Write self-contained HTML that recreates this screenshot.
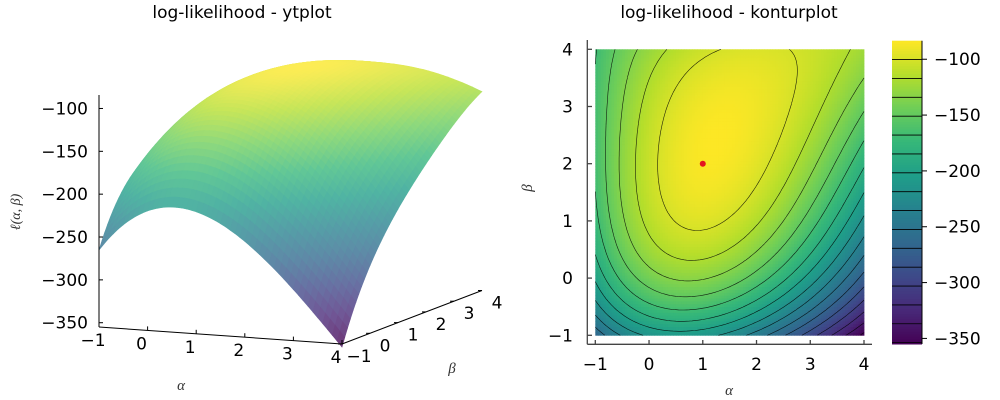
<!DOCTYPE html>
<html><head><meta charset="utf-8">
<style>
body{margin:0;background:#fff;}
svg{display:block;font-family:"DejaVu Sans","Liberation Sans",sans-serif;}
</style></head>
<body>
<svg id="c" width="1000" height="400" viewBox="0 0 1000 400" xmlns="http://www.w3.org/2000/svg">
<rect width="1000" height="400" fill="#fff"/>
<text x="242" y="18" text-anchor="middle" font-size="17">log-likelihood - ytplot</text>
<text x="729" y="18" text-anchor="middle" font-size="17">log-likelihood - konturplot</text>
<g id="left"></g>
<g id="right"></g>
<g id="cbar"></g>
</svg>
<script>
// grid of log-likelihood values, rows beta=-1..4, cols alpha=-1..4
const alphaTicks=[-1,0,1,2,3,4];
const betaTicks=[-1,0,1,2,3,4];
const zTicks=[-100,-150,-200,-250,-300,-350];
const cbarTicks=[-100,-150,-200,-250,-300,-350];
const row_bm1=[-260,-220,-215,-245,-295,-355];
const row_b0=[-205,-140,-127,-155,-210,-285];
const row_b1=[-176,-112,-97,-113,-150,-222];
const row_b2=[-163,-100,-88,-107,-137,-176];
const row_b3=[-166,-112,-87,-87,-108,-148];
const row_b4=[-168,-132,-103,-92,-106,-125];
const mleAlpha=[1];
const mleBeta=[2];
const zMin=-355, zMax=-83.4, levelStep=16.9;

const grid=[row_bm1,row_b0,row_b1,row_b2,row_b3,row_b4];
const NS="http://www.w3.org/2000/svg";
function mk(tag,attrs,parent){const e=document.createElementNS(NS,tag);for(const k in attrs)e.setAttribute(k,attrs[k]);parent.appendChild(e);return e;}

// least-squares smooth polynomial surface through the grid
const DEG=4;const terms=[];for(let p=0;p<=DEG;p++)for(let q=0;q+p<=DEG;q++)terms.push([p,q]);
function basis(a,b){const u=(a-1.5)/2.5,v=(b-1.5)/2.5;return terms.map(t=>Math.pow(u,t[0])*Math.pow(v,t[1]));}
const K=terms.length;const A=[];for(let i=0;i<K;i++){A.push(new Array(K+1).fill(0));}
for(let i=0;i<grid.length;i++)for(let j=0;j<grid[i].length;j++){
  const bs=basis(alphaTicks[j],betaTicks[i]);const z=grid[i][j];
  for(let r=0;r<K;r++){for(let c=0;c<K;c++)A[r][c]+=bs[r]*bs[c];A[r][K]+=bs[r]*z;}}
for(let r=0;r<K;r++)A[r][r]+=1e-6;
for(let c=0;c<K;c++){let piv=c;for(let r=c+1;r<K;r++)if(Math.abs(A[r][c])>Math.abs(A[piv][c]))piv=r;
  [A[c],A[piv]]=[A[piv],A[c]];
  for(let r=0;r<K;r++){if(r===c)continue;const m=A[r][c]/A[c][c];for(let k=c;k<=K;k++)A[r][k]-=m*A[c][k];}}
const coef=A.map((row,i)=>row[K]/row[i]);
function f(a,b){const bs=basis(a,b);let s=0;for(let i=0;i<K;i++)s+=coef[i]*bs[i];return s;}

const vir=[[68,1,84],[72,40,120],[62,73,137],[49,104,142],[38,130,142],[31,158,137],[53,183,121],[110,206,88],[181,222,43],[253,231,37]];
function cmap(v,light){let t=(v-zMin)/(zMax-zMin);t=Math.max(0,Math.min(1,t))*(vir.length-1);
  const k=Math.min(Math.floor(t),vir.length-2),u=t-k;
  let c=vir[k].map((x,q)=>x+(vir[k+1][q]-x)*u);
  if(light)c=c.map(x=>x+(255-x)*light);
  return `rgb(${c.map(Math.round).join(',')})`;}

// ---------- right: contour heatmap ----------
const R=document.getElementById('right');
const px0=595.3,px1=864,py0=335.3,py1=49.3;
const X=a=>px0+(a+1)/5*(px1-px0), Y=b=>py0+(b+1)/5*(py1-py0);
const N=100, da=5/N;
const hm=mk('g',{},R);

const S=[];
for(let i=0;i<=N;i++){S.push([]);for(let j=0;j<=N;j++)S[i].push(f(-1+j*da,-1+i*da));}
for(let i=0;i<N;i++)for(let j=0;j<N;j++){
  const v=(S[i][j]+S[i+1][j]+S[i][j+1]+S[i+1][j+1])/4;
  mk('rect',{x:X(-1+j*da).toFixed(2),y:Y(-1+(i+1)*da).toFixed(2),width:((px1-px0)/N+0.4).toFixed(2),height:((py0-py1)/N+0.4).toFixed(2),fill:cmap(v)},hm);
}
const levels=[];for(let L=zMax-levelStep;L>zMin;L-=levelStep)levels.push(L);
const cg=mk('g',{fill:'none',stroke:'#000','stroke-width':0.6,'stroke-opacity':0.85},R);

levels.forEach(L=>{let d='';
  for(let i=0;i<N;i++)for(let j=0;j<N;j++){
    const c=[[j,i,S[i][j]],[j+1,i,S[i][j+1]],[j+1,i+1,S[i+1][j+1]],[j,i+1,S[i+1][j]]];
    const pts=[];
    for(let k=0;k<4;k++){const p=c[k],q=c[(k+1)%4];
      if((p[2]-L)*(q[2]-L)<0){const t=(L-p[2])/(q[2]-p[2]);pts.push([p[0]+(q[0]-p[0])*t,p[1]+(q[1]-p[1])*t]);}}
    for(let k=0;k+1<pts.length;k+=2){
      d+=`M${X(-1+pts[k][0]*da).toFixed(1)} ${Y(-1+pts[k][1]*da).toFixed(1)}L${X(-1+pts[k+1][0]*da).toFixed(1)} ${Y(-1+pts[k+1][1]*da).toFixed(1)}`;}
  }
  const p=mk('path',{d:d},cg);
  
});
const dot=mk('circle',{cx:X(mleAlpha[0]),cy:Y(mleBeta[0]),r:3,fill:'#e4161f'},R);

const ax=mk('g',{stroke:'#444','stroke-width':1.3},R);

mk('line',{x1:587.3,y1:40,x2:587.3,y2:344.3},ax);
mk('line',{x1:587.3,y1:344.3,x2:872,y2:344.3},ax);
alphaTicks.forEach(a=>{mk('line',{x1:X(a),y1:344.3,x2:X(a),y2:340},ax);
  const t=mk('text',{x:X(a),y:370,'text-anchor':'middle','font-size':17,stroke:'none',fill:'#000'},R);t.textContent=(a<0?'\u2212':'')+Math.abs(a);
  });
betaTicks.forEach(b=>{mk('line',{x1:587.3,y1:Y(b),x2:592,y2:Y(b)},ax);
  const t=mk('text',{x:573,y:Y(b)+6,'text-anchor':'end','font-size':17,fill:'#000'},R);t.textContent=(b<0?'\u2212':'')+Math.abs(b);
  });
let tt=mk('text',{x:729,y:395,'text-anchor':'middle','font-size':15,'font-style':'italic','font-family':'Liberation Serif,serif',fill:'#333'},R);tt.textContent='α';

tt=mk('text',{x:0,y:0,transform:'translate(532,188) rotate(-90)','text-anchor':'middle','font-size':15,'font-style':'italic','font-family':'Liberation Serif,serif',fill:'#333'},R);tt.textContent='β';


// ---------- colorbar ----------
const CB=document.getElementById('cbar');
const cx0=892,cx1=922,cy0=344,cy1=40.7;
const CY=v=>cy0+(v-zMin)/(zMax-zMin)*(cy1-cy0);
for(let k=0;k<120;k++){const v0=zMin+(zMax-zMin)*k/120,v1=zMin+(zMax-zMin)*(k+1)/120;
  mk('rect',{x:cx0,y:CY(v1).toFixed(2),width:cx1-cx0,height:(CY(v0)-CY(v1)+0.5).toFixed(2),fill:cmap((v0+v1)/2)},CB);}
levels.forEach(L=>mk('line',{x1:cx0,x2:cx1,y1:CY(L),y2:CY(L),stroke:'#000','stroke-width':0.8},CB));
mk('line',{x1:cx1,y1:cy1,x2:cx1,y2:cy0,stroke:'#000','stroke-width':1},CB);
cbarTicks.forEach(v=>{mk('line',{x1:cx1,x2:cx1+5,y1:CY(v),y2:CY(v),stroke:'#000'},CB);
  const t=mk('text',{x:934,y:CY(v)+6,'font-size':17},CB);t.textContent='\u2212'+Math.abs(v);
  });

// ---------- left: 3D surface ----------
const Lg=document.getElementById('left');
function P(a,b,z){return [99+(a+1)*48.6+(b+1)*28,327+(a+1)*3.4-(b+1)*10.7-(z-zMin)*0.857];}
const M=50, d3=5/M;
const sg=mk('g',{},Lg);

const Z=[];for(let i=0;i<=M;i++){Z.push([]);for(let j=0;j<=M;j++)Z[i].push(f(-1+j*d3,-1+i*d3));}
for(let i=M-1;i>=0;i--)for(let j=0;j<M;j++){
  const a0=-1+j*d3,a1=a0+d3,b0=-1+i*d3,b1=b0+d3;
  const pts=[P(a0,b0,Z[i][j]),P(a1,b0,Z[i][j+1]),P(a1,b1,Z[i+1][j+1]),P(a0,b1,Z[i+1][j])];
  const col=cmap((Z[i][j]+Z[i][j+1]+Z[i+1][j]+Z[i+1][j+1])/4,0.22);
  mk('polygon',{points:pts.map(p=>p[0].toFixed(1)+','+p[1].toFixed(1)).join(' '),fill:col,stroke:col,'stroke-width':0.6},sg);
}
const la=mk('g',{stroke:'#000','stroke-width':1},Lg);

mk('line',{x1:99,y1:95,x2:99,y2:327},la);
let p0=P(-1,-1,zMin),p1=P(4,-1,zMin),p2=P(4,4,zMin);
mk('line',{x1:p0[0],y1:p0[1],x2:p1[0],y2:p1[1]},la);
mk('line',{x1:p1[0],y1:p1[1],x2:p2[0],y2:p2[1]},la);
zTicks.forEach(z=>{const y=P(-1,-1,z)[1];mk('line',{x1:99,x2:103,y1:y,y2:y},la);
  const t=mk('text',{x:88,y:y+6,'text-anchor':'end','font-size':17,stroke:'none'},Lg);t.textContent='\u2212'+Math.abs(z);
  });
alphaTicks.forEach(a=>{const p=P(a,-1,zMin);mk('line',{x1:p[0],y1:p[1],x2:p[0],y2:p[1]-4},la);
  const t=mk('text',{x:p[0]-6,y:p[1]+19,'text-anchor':'middle','font-size':17},Lg);t.textContent=(a<0?'\u2212':'')+Math.abs(a);
  });
betaTicks.forEach(b=>{const p=P(4,b,zMin);mk('line',{x1:p[0],y1:p[1],x2:p[0]-4,y2:p[1]},la);
  const t=mk('text',{x:p[0]+(b<0?17:15),y:p[1]+18,'text-anchor':'middle','font-size':17},Lg);t.textContent=(b<0?'\u2212':'')+Math.abs(b);
  });
tt=mk('text',{x:181,y:390,'text-anchor':'middle','font-size':15,'font-style':'italic','font-family':'Liberation Serif,serif',fill:'#333'},Lg);tt.textContent='α';

tt=mk('text',{x:452,y:373,'text-anchor':'middle','font-size':15,'font-style':'italic','font-family':'Liberation Serif,serif',fill:'#333'},Lg);tt.textContent='β';

tt=mk('text',{x:0,y:0,transform:'translate(20,212) rotate(-90)','text-anchor':'middle','font-size':14,'font-style':'italic','font-family':'Liberation Serif,serif',fill:'#333'},Lg);tt.textContent='ℓ(α, β)';

</script>
</body></html>
